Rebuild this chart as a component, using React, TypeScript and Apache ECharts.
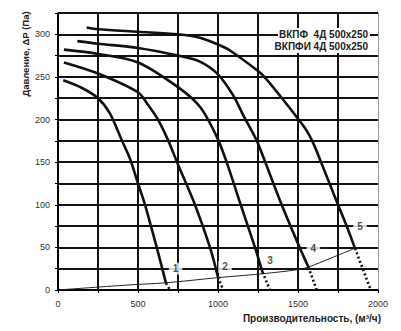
import React, { useEffect, useRef } from "react";
import * as echarts from "echarts";

const curve1 = [[33, 246], [150, 237], [250, 225], [325, 207], [398, 176], [450, 154], [500, 125], [544, 100], [617, 50], [675, 8]];
const curve2 = [[37, 267], [250, 254], [500, 232], [560, 218], [625, 200], [690, 175], [744, 150], [856, 100], [950, 50], [1000, 15]];
const curve3 = [[37, 282], [250, 277], [500, 267], [750, 238], [887, 215], [992, 180], [1054, 150], [1142, 100], [1231, 50], [1278, 21]];
const curve4 = [[121, 292], [250, 289], [500, 284], [750, 275], [887, 268], [1000, 253], [1096, 228], [1158, 205], [1210, 187], [1250, 172], [1398, 100], [1510, 50], [1565, 27]];
const curve5 = [[179, 308], [250, 306], [500, 303], [750, 300], [887, 296], [1000, 288], [1075, 281], [1250, 257], [1290, 250], [1400, 225], [1500, 201], [1554, 187], [1596, 172], [1640, 152], [1750, 100], [1804, 75], [1856, 49]];

const tail1 = [[675, 8], [700, 0]];
const tail2 = [[1000, 15], [1033, 0]];
const tail3 = [[1278, 21], [1325, 0]];
const tail4 = [[1565, 27], [1617, 0]];
const tail5 = [[1856, 49], [1955, 0]];

const systemCurve = [[0, 0], [450, 6], [675, 8.5], [1000, 14.5], [1273, 19], [1500, 24], [1565, 27], [1700, 37], [1856, 49]];

const curveLabels = [
  { name: "1", value: [735, 25] },
  { name: "2", value: [1044, 27] },
  { name: "3", value: [1325, 35] },
  { name: "4", value: [1596, 49] },
  { name: "5", value: [1887, 74] },
];

const titleLines = ["ВКПФ  4Д 500x250", "ВКПФИ 4Д 500x250"];
const xAxisName = "Производительность, (м³/ч)";
const yAxisName = "Давление, ΔP (Па)";

export default function App() {
  const ref = useRef<HTMLDivElement>(null);
  useEffect(() => {
    if (!ref.current) return;
    const chart = echarts.init(ref.current, null, { renderer: "svg" });
    const font = "Liberation Sans, Arial, sans-serif";
    const curveSeries = [curve1, curve2, curve3, curve4, curve5].map((d) => ({
      type: "line",
      data: d,
      smooth: 0.3,
      showSymbol: false,
      symbol: "none",
      lineStyle: { color: "#111", width: 2.6 },
      z: 5,
    }));
    const tailSeries = [tail1, tail2, tail3, tail4, tail5].map((d) => ({
      type: "line",
      data: d,
      showSymbol: false,
      symbol: "none",
      lineStyle: { color: "#111", width: 2.6, type: [2, 2.5] },
      z: 5,
    }));
    chart.setOption({
      animation: false,
      grid: { left: 50, right: 15, top: 5, bottom: 41 },
      xAxis: {
        type: "value",
        min: 0,
        max: 2000,
        interval: 250,
        axisLine: { show: true, lineStyle: { color: "#000", width: 1.5 } },
        axisTick: { show: true, length: 3, lineStyle: { color: "#000" } },
        axisLabel: {
          fontFamily: font,
          fontSize: 9,
          color: "#333",
          margin: 9,
          formatter: (v: number) => (v % 500 === 0 ? String(v) : ""),
        },
        splitLine: { show: true, showMaxLine: false, lineStyle: { color: "#111", width: 2 } },
      },
      yAxis: [
        {
          type: "value",
          min: 0,
          max: 325,
          interval: 25,
          axisLine: { show: true, lineStyle: { color: "#000", width: 1.5 } },
          axisTick: { show: true, length: 3, lineStyle: { color: "#000" } },
          axisLabel: {
            fontFamily: font,
            fontSize: 9,
            color: "#333",
            margin: 8,
            formatter: (v: number) => (v % 50 === 0 && v <= 300 ? String(v) : ""),
          },
          splitLine: { show: true, lineStyle: { color: "#111", width: 2 } },
        },
        {
          type: "value",
          position: "right",
          min: 0,
          max: 325,
          interval: 25,
          axisLine: { show: true, lineStyle: { color: "#999", width: 1 } },
          axisTick: { show: false },
          axisLabel: { show: false },
          splitLine: { show: false },
        },
      ],
      graphic: [
        {
          type: "text",
          x: 17,
          y: 46,
          rotation: Math.PI / 2,
          style: {
            text: yAxisName,
            fontFamily: font,
            fontSize: 9.5,
            fontWeight: "bold",
            fill: "#222",
            align: "center",
            verticalAlign: "middle",
          },
        },
        {
          type: "text",
          x: 373,
          y: 310,
          style: {
            text: xAxisName,
            fontFamily: font,
            fontSize: 10,
            fontWeight: "bold",
            fill: "#222",
            align: "right",
            verticalAlign: "middle",
          },
        },
        {
          type: "rect",
          shape: { x: 270, y: 20, width: 92, height: 25 },
          style: { fill: "#fff" },
          z: 10,
        },
        {
          type: "text",
          x: 360,
          y: 26,
          z: 11,
          style: {
            text: titleLines[0],
            fontFamily: font,
            fontSize: 10,
            fontWeight: "bold",
            fill: "#222",
            align: "right",
            verticalAlign: "middle",
          },
        },
        {
          type: "text",
          x: 360,
          y: 38,
          z: 11,
          style: {
            text: titleLines[1],
            fontFamily: font,
            fontSize: 10,
            fontWeight: "bold",
            fill: "#222",
            align: "right",
            verticalAlign: "middle",
          },
        },
      ],
      series: [
        ...curveSeries,
        ...tailSeries,
        {
          type: "line",
          data: systemCurve,
          smooth: 0.4,
          showSymbol: false,
          symbol: "none",
          lineStyle: { color: "#222", width: 1 },
          z: 4,
        },
        {
          type: "scatter",
          data: curveLabels,
          symbolSize: 0,
          z: 8,
          label: {
            show: true,
            position: "inside",
            formatter: (p: any) => p.name,
            fontFamily: font,
            fontSize: 10,
            fontWeight: "bold",
            color: "#222",
            backgroundColor: "#fff",
            padding: [1, 4],
          },
        },
      ],
    });
    return () => chart.dispose();
  }, []);
  return <div ref={ref} style={{ width: 385, height: 323 }} />;
}
